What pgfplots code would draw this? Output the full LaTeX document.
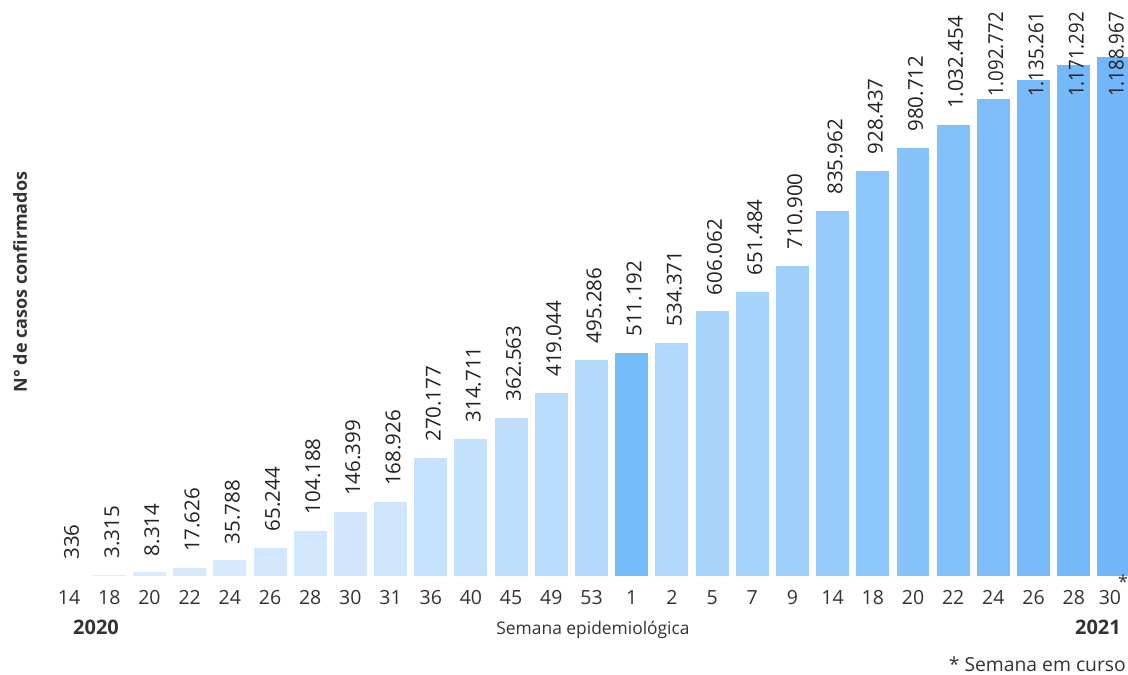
\documentclass[border=0pt]{standalone}
\usepackage{pgfplots}
\pgfplotsset{compat=1.18}
\usepackage{fontspec}
\setmainfont{Open Sans}
\definecolor{b0}{HTML}{DCEDFD}
\definecolor{b1}{HTML}{DBECFD}
\definecolor{b2}{HTML}{D9EBFD}
\definecolor{b3}{HTML}{D7EAFD}
\definecolor{b4}{HTML}{D6EAFD}
\definecolor{b5}{HTML}{D4E8FD}
\definecolor{b6}{HTML}{D2E7FC}
\definecolor{b7}{HTML}{D1E6FC}
\definecolor{b8}{HTML}{CFE5FC}
\definecolor{b9}{HTML}{C6E1FC}
\definecolor{b10}{HTML}{C3E0FC}
\definecolor{b11}{HTML}{BEDDFC}
\definecolor{b12}{HTML}{B9DBFC}
\definecolor{b13}{HTML}{B4D9FC}
\definecolor{b14}{HTML}{74BCF9}
\definecolor{b15}{HTML}{B0D8FC}
\definecolor{b16}{HTML}{A9D5FC}
\definecolor{b17}{HTML}{A4D3FC}
\definecolor{b18}{HTML}{9FD0FC}
\definecolor{b19}{HTML}{95CAF9}
\definecolor{b20}{HTML}{8CC6FB}
\definecolor{b21}{HTML}{87C3FB}
\definecolor{b22}{HTML}{82C0FB}
\definecolor{b23}{HTML}{7DBEFA}
\definecolor{b24}{HTML}{79BBFA}
\definecolor{b25}{HTML}{74B9F9}
\definecolor{b26}{HTML}{70B6F8}
\definecolor{tickgray}{HTML}{333333}
\definecolor{valgray}{HTML}{222222}

\pgfplotsset{
  mybar/.style={ybar, bar shift=0pt, bar width=0.82, draw=none, fill=#1},
  vallabel/.style={draw=none, mark=none, nodes near coords, point meta=explicit,
    nodes near coords style={xshift=2.5bp, rotate=90, anchor=west, inner sep=0pt,
      font=\fontsize{20.5bp}{24bp}\selectfont, text=valgray, xscale=#1}},
}

\begin{document}
\begin{tikzpicture}
\path[use as bounding box] (0,0) rectangle (1128bp,675bp);
\begin{axis}[
  at={(49bp,99bp)}, anchor=south west,
  scale only axis, width=1079bp, height=571bp,
  xmin=-0.5, xmax=26.35, ymin=0, ymax=1308000,
  axis line style={draw=none},
  ytick=\empty,
  xtick={0,...,26},
  xticklabels={14,18,20,22,24,26,28,30,31,36,40,45,49,53,1,2,5,7,9,14,18,20,22,24,26,28,{30\hspace*{8bp}}},
  major tick length=0pt,
  tick style={draw=none},
  xticklabel style={font=\fontsize{19.5bp}{22bp}\selectfont, text=tickgray, anchor=north, inner sep=0pt, yshift=-14bp},
  /pgf/number format/assume math mode=true,
  /pgf/number format/fixed,
  /pgf/number format/precision=0,
  /pgf/number format/1000 sep={.},
]
\addplot[mybar=b0] coordinates {(0,336)};
\addplot[mybar=b1] coordinates {(1,3315)};
\addplot[mybar=b2] coordinates {(2,8314)};
\addplot[mybar=b3] coordinates {(3,17626)};
\addplot[mybar=b4] coordinates {(4,35788)};
\addplot[mybar=b5] coordinates {(5,65244)};
\addplot[mybar=b6] coordinates {(6,104188)};
\addplot[mybar=b7] coordinates {(7,146399)};
\addplot[mybar=b8] coordinates {(8,168926)};
\addplot[mybar=b9] coordinates {(9,270177)};
\addplot[mybar=b10] coordinates {(10,314711)};
\addplot[mybar=b11] coordinates {(11,362563)};
\addplot[mybar=b12] coordinates {(12,419044)};
\addplot[mybar=b13] coordinates {(13,495286)};
\addplot[mybar=b14] coordinates {(14,511192)};
\addplot[mybar=b15] coordinates {(15,534371)};
\addplot[mybar=b16] coordinates {(16,606062)};
\addplot[mybar=b17] coordinates {(17,651484)};
\addplot[mybar=b18] coordinates {(18,710900)};
\addplot[mybar=b19] coordinates {(19,835962)};
\addplot[mybar=b20] coordinates {(20,928437)};
\addplot[mybar=b21] coordinates {(21,980712)};
\addplot[mybar=b22] coordinates {(22,1032454)};
\addplot[mybar=b23] coordinates {(23,1092772)};
\addplot[mybar=b24] coordinates {(24,1135261)};
\addplot[mybar=b25] coordinates {(25,1171292)};
\addplot[mybar=b26] coordinates {(26,1188967)};
% value labels: (x, label position) [value]
\addplot[vallabel=1] coordinates {
 (0,37336) [336]
 (1,40315) [3315]
 (2,45314) [8314]
 (3,54626) [17626]
 (4,72788) [35788]
 (5,102244) [65244]
 (6,141188) [104188]
 (7,183399) [146399]
 (8,205926) [168926]
 (9,307177) [270177]
 (10,351711) [314711]
 (11,399563) [362563]
 (12,456044) [419044]
 (13,532286) [495286]
 (14,548192) [511192]
 (15,571371) [534371]
 (16,643062) [606062]
 (17,688484) [651484]
 (18,747900) [710900]
 (19,872962) [835962]
 (20,965437) [928437]
 (21,1017712) [980712]
 (22,1069454) [1032454]
};
\addplot[vallabel=0.91] coordinates {
 (23,1097300) [1092772]
 (24,1097300) [1135261]
 (25,1097300) [1171292]
 (26,1097300) [1188967]
};
\end{axis}
\node[text=tickgray, font=\fontsize{18bp}{20bp}\selectfont] at (1123bp,93bp) {*};
\node[anchor=base, text=tickgray, font=\bfseries\fontsize{20bp}{22bp}\selectfont] at (96bp,40bp) {2020};
\node[anchor=base east, inner sep=0pt, text=tickgray, font=\bfseries\fontsize{20bp}{22bp}\selectfont] at (1121bp,40bp) {2021};
\node[anchor=base, text=tickgray, font=\fontsize{17.4bp}{20bp}\selectfont] at (593bp,40bp) {Semana epidemiológica};
\node[anchor=base east, inner sep=0pt, text=tickgray, font=\fontsize{19.3bp}{22bp}\selectfont] at (1126bp,4bp) {* Semana em curso};
\node[rotate=90, text=tickgray, font=\bfseries\fontsize{18bp}{20bp}\selectfont] at (20bp,393bp) {N° de casos confirmados};
\end{tikzpicture}
\end{document}
